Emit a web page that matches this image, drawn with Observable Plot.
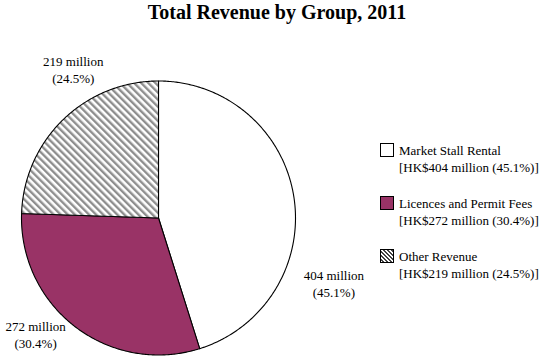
<!DOCTYPE html>
<html>
<head>
<meta charset="utf-8">
<script src="https://cdn.jsdelivr.net/npm/d3@7"></script>
<script src="https://cdn.jsdelivr.net/npm/@observablehq/plot@0.6"></script>
<style>
  html, body { margin: 0; padding: 0; background: #fff; }
  #wrap { position: relative; width: 548px; height: 362px; overflow: hidden; font-family: "Liberation Serif", "Times New Roman", serif; }
  #title { position: absolute; left: 0; width: 554px; top: 1px; text-align: center; font-weight: bold; font-size: 20px; color: #000; }
  #legend { position: absolute; left: 380px; top: 142px; font-size: 13px; color: #000; }
  .item { position: relative; height: 53px; }
  .sw { position: absolute; left: 0; top: 1px; width: 12px; height: 12px; border: 1px solid #000; }
  .txt { position: absolute; left: 19px; top: 0; line-height: 17px; white-space: nowrap; }
  #chart { position: absolute; left: 0; top: 0; }
</style>
</head>
<body>
<div id="wrap">
  <div id="chart"></div>
  <div id="title">Total Revenue by Group, 2011</div>
  <div id="legend"></div>
</div>
<script>
const categories = ["Market Stall Rental", "Licences and Permit Fees", "Other Revenue"];
const values = [404, 272, 219];
const percents = ["45.1%", "30.4%", "24.5%"];
const fills = ["#ffffff", "#993366", "url(#hatch)"];
const swatchFills = ["#ffffff", "#993366", "repeating-linear-gradient(45deg, #ffffff 0 1.4px, #444444 1.4px 2.8px)"];

const arcs = d3.pie().sort(null).value(d => d.value).startAngle(0).endAngle(2 * Math.PI)(
  categories.map((c, i) => ({category: c, value: values[i], percent: percents[i], fill: fills[i]}))
);

// polygon outline of each slice in unit-circle coordinates
const slicePts = [];
arcs.forEach(a => {
  const n = Math.max(8, Math.ceil((a.endAngle - a.startAngle) / 0.01));
  slicePts.push({k: a.data.category, fill: a.data.fill, x: 0, y: 0});
  for (let j = 0; j <= n; j++) {
    const t = a.startAngle + (a.endAngle - a.startAngle) * j / n;
    slicePts.push({k: a.data.category, fill: a.data.fill, x: Math.sin(t), y: Math.cos(t)});
  }
  slicePts.push({k: a.data.category, fill: a.data.fill, x: 0, y: 0});
});

const labels = arcs.map(a => {
  const m = (a.startAngle + a.endAngle) / 2;
  return {x: Math.sin(m), y: Math.cos(m), text: `${a.data.value} million\n(${a.data.percent})`};
});

const labelOffsets = [[40, 86], [-40, 7], [10, -50]];
const labelMarks = labels.map((l, i) => Plot.text([l], {
  x: "x", y: "y", text: "text", dx: labelOffsets[i][0], dy: labelOffsets[i][1],
  fontSize: 13, fontFamily: "Liberation Serif", fill: "#000", lineHeight: 1.3, textAnchor: "middle"
}));

const cx = 158, cy = 217.5, r = 137;
const svg = Plot.plot({
  width: 548, height: 362,
  margin: 0,
  x: {domain: [-1, 1], range: [cx - r, cx + r], axis: null},
  y: {domain: [-1, 1], range: [cy + r, cy - r], axis: null},
  color: {type: "identity"},
  style: {background: "transparent", overflow: "visible"},
  marks: [
    Plot.line(slicePts, {x: "x", y: "y", z: "k", fill: "fill", stroke: "#000", strokeWidth: 1.1, curve: "linear"}),
    ...labelMarks
  ]
});

const defs = d3.select(svg).insert("defs", ":first-child");
const pat = defs.append("pattern")
  .attr("id", "hatch").attr("patternUnits", "userSpaceOnUse")
  .attr("width", 5).attr("height", 5)
  .attr("patternTransform", "rotate(-45)");
pat.append("rect").attr("width", 5).attr("height", 5).attr("fill", "#fff");
pat.append("rect").attr("x", 0).attr("width", 2.4).attr("height", 5).attr("fill", "#8e8e8e");

document.getElementById("chart").appendChild(svg);

const legend = document.getElementById("legend");
categories.forEach((c, i) => {
  const item = document.createElement("div");
  item.className = "item";
  const sw = document.createElement("div");
  sw.className = "sw";
  sw.style.background = swatchFills[i];
  const tx = document.createElement("div");
  tx.className = "txt";
  tx.innerHTML = `${c}<br>[HK$${values[i]} million (${percents[i]})]`;
  item.appendChild(sw);
  item.appendChild(tx);
  legend.appendChild(item);
});
</script>
</body>
</html>
